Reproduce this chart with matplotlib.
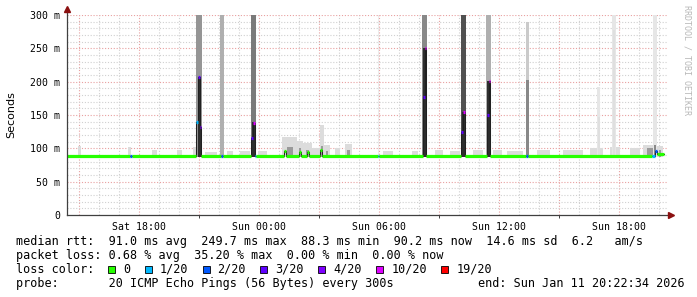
#!/usr/bin/env python3
# smokeping style latency graph (median rtt + smoke + loss colors)

import matplotlib
matplotlib.use('Agg')
import matplotlib.pyplot as plt
from matplotlib.patches import Rectangle

W, H = 697, 297

# time axis: hours since Sat 00:00, graph ends Sun 20:22:34
t_start = 14.376
t_end = 44.376
t_last = 44.22  # last sample drawn

# median rtt steps: start hour, value [ms], loss bucket index
med_t = [14.38, 17.55, 17.65, 20.85, 20.93, 21.01, 21.10, 22.09, 22.17,
         23.60, 23.68, 23.76, 23.84, 25.22, 25.32, 25.97, 26.07, 26.38,
         26.48, 27.03, 27.13, 29.91, 29.99, 32.18, 32.26, 32.35, 34.10,
         34.18, 34.27, 35.38, 35.46, 35.55, 37.35, 37.43, 43.63, 43.78,
         43.90]
med_v = [89, 89, 89, 140, 207, 132, 89, 89, 89,
         115, 138, 89, 89, 96, 89, 95, 89, 94,
         89, 97, 89, 89, 89, 177, 250, 89, 124,
         155, 89, 150, 201, 89, 89, 89, 89, 96,
         92]
med_loss = [0, 2, 0, 1, 3, 4, 0, 2, 0,
            3, 5, 1, 0, 0, 0, 0, 0, 0,
            0, 0, 0, 1, 0, 3, 5, 0, 3,
            5, 0, 3, 5, 0, 2, 0, 1, 2,
            0]

# loss legend
loss_labels = ['0', '1/20', '2/20', '3/20', '4/20', '10/20', '19/20']
loss_colors = ['#26ff00', '#00b8ff', '#0059ff', '#5e00ff', '#7e00ff', '#dd00ff', '#ff0000']

# tall smoke columns: start/end hour, top [ms], inner top [ms], densities
spike_t0 = [20.85, 22.05, 23.58, 29.93, 32.15, 34.08, 35.35, 37.31, 40.90, 41.63, 43.68]
spike_t1 = [21.15, 22.23, 23.83, 30.00, 32.40, 34.33, 35.60, 37.50, 41.05, 41.85, 43.88]
spike_top = [310, 310, 310, 310, 310, 310, 310, 290, 192, 300, 310]
spike_core = [207, 0, 140, 0, 250, 155, 201, 202, 147, 277, 105]
spike_density = [0.50, 0.42, 0.60, 0.15, 0.55, 0.75, 0.42, 0.32, 0.18, 0.18, 0.18]
spike_core_density = [0.85, 0, 0.85, 0, 0.85, 0.85, 0.85, 0.55, 0.22, 0.22, 0.55]

# light smoke around the baseline: start/end hour, top [ms], inner top [ms]
fuzz_t0 = [14.93, 17.43, 18.63, 19.88, 20.68, 21.28, 22.38, 23.03, 23.93,
           25.13, 25.88, 26.18, 26.63, 27.03, 27.23, 27.78, 28.28, 30.18,
           31.63, 32.78, 33.53, 34.68, 35.68, 36.38, 37.88, 39.18, 40.53,
           41.53, 42.53, 43.18, 43.88]
fuzz_t1 = [15.08, 17.58, 18.88, 20.13, 20.88, 21.88, 22.68, 23.53, 24.38,
           25.88, 26.18, 26.63, 27.03, 27.23, 27.53, 28.03, 28.63, 30.68,
           31.93, 33.18, 34.03, 35.18, 36.13, 37.18, 38.53, 40.18, 41.18,
           42.03, 43.03, 43.88, 44.18]
fuzz_top = [103, 102, 98, 97, 102, 95, 96, 96, 96,
            117, 111, 108, 100, 135, 105, 100, 107, 96,
            96, 97, 96, 97, 97, 96, 97, 98, 100,
            102, 100, 105, 103]
fuzz_core = [0, 0, 0, 0, 0, 0, 0, 0, 0,
             102, 100, 97, 0, 104, 96, 0, 98, 0,
             0, 0, 0, 0, 0, 0, 0, 0, 0,
             0, 0, 100, 97]

# axis ticks
x_labels = ['Sat 18:00', 'Sun 00:00', 'Sun 06:00', 'Sun 12:00', 'Sun 18:00']
x_label_pos = [18, 24, 30, 36, 42]
y_ticks = [0, 50, 100, 150, 200, 250, 300]
y_labels = ['0', '50 m', '100 m', '150 m', '200 m', '250 m', '300 m']

# legend text
rtt_line = 'median rtt:  91.0 ms avg  249.7 ms max  88.3 ms min  90.2 ms now  14.6 ms sd  6.2   am/s'
loss_line = 'packet loss: 0.68 % avg  35.20 % max  0.00 % min  0.00 % now'
probe_text = 'probe:       20 ICMP Echo Pings (56 Bytes) every 300s'
end_text = 'end: Sun Jan 11 20:22:34 2026'

BASE = 87.5
MONO = 'DejaVu Sans Mono'
FS = 8.5
CW = 7.1  # char width in px at FS


# pixel position -> figure fraction
def px(x, y):
    return x/W, 1 - y/H


# dotted background grid
def plot_grid(ax):
    h = 15
    while h < t_end:
        major = (h - 15) % 3 == 0
        ax.axvline(h, color='#e8a0a0' if major else '#d0d0d0', lw=0.8,
                   ls=(0, (1, 1.6)), zorder=0)
        h += 1
    for v in range(10, 301, 10):
        major = v % 50 == 0
        ax.axhline(v, color='#e8a0a0' if major else '#d0d0d0', lw=0.8,
                   ls=(0, (1, 1.6)), zorder=0)


# smoke columns
def plot_smoke(ax):
    grey = plt.cm.Greys
    for t0, t1, top, core in zip(fuzz_t0, fuzz_t1, fuzz_top, fuzz_core):
        ax.bar(t0, top - BASE, bottom=BASE, width=t1 - t0, align='edge',
               color='#dcdcdc', lw=0, zorder=1)
        if core > 0:
            ax.bar(t0 + (t1 - t0)*0.3, core - BASE, bottom=BASE, width=(t1 - t0)*0.4,
                   align='edge', color='#9a9a9a', lw=0, zorder=1)
    for i in range(len(spike_t0)):
        w = spike_t1[i] - spike_t0[i]
        ax.bar(spike_t0[i], spike_top[i] - BASE, bottom=BASE, width=w, align='edge',
               color=grey(spike_density[i]), lw=0, zorder=1)
        if spike_core[i] > 0:
            ax.bar(spike_t0[i] + w*0.2, spike_core[i] - BASE, bottom=BASE, width=w*0.55,
                   align='edge', color=grey(spike_core_density[i]), lw=0, zorder=1)


# median line coloured by loss
def plot_median(ax):
    t = med_t + [t_last]
    v = med_v + [med_v[-1]]
    ax.step(t, v, where='post', color='#202020', lw=0.75, zorder=2)
    cols = [loss_colors[l] for l in med_loss]
    ax.hlines(med_v, med_t, t[1:], colors=cols, lw=2.3, zorder=3, capstyle='butt')


# axes, arrows and tick labels
def plot_axes(ax):
    for s in ax.spines.values():
        s.set_visible(False)
    ax.plot([t_start, t_start], [0, 309], color='#404040', lw=0.9, clip_on=False, zorder=4)
    ax.plot([t_start, 44.6], [0, 0], color='#404040', lw=0.9, clip_on=False, zorder=4)
    ax.plot([t_start], [309.5], marker='^', ms=4.5, color='#8b1010', clip_on=False, zorder=5)
    ax.plot([44.6], [0], marker='>', ms=4.5, color='#8b1010', clip_on=False, zorder=5)
    ax.set_xticks(x_label_pos)
    ax.set_xticklabels(x_labels, fontsize=7.1, family=MONO)
    ax.set_xticks([21, 27, 33, 39], minor=True)
    ax.tick_params(axis='x', which='major', length=0, pad=5)
    ax.tick_params(axis='x', which='minor', length=2.5, width=0.7, color='#404040')
    ax.set_yticks(y_ticks)
    ax.set_yticklabels(y_labels, fontsize=7.1, family=MONO)
    ax.tick_params(axis='y', length=0, pad=5)
    ax.set_ylabel('Seconds', fontsize=8, family='DejaVu Sans', labelpad=10)


# text legend under the graph
def plot_legend(fig):
    fig.text(*px(16, 245), rtt_line, fontsize=FS, family=MONO, va='baseline')
    fig.text(*px(16, 259), loss_line, fontsize=FS, family=MONO, va='baseline')
    fig.text(*px(16, 273), 'loss color:', fontsize=FS, family=MONO, va='baseline')
    x = 108
    for lab, col in zip(loss_labels, loss_colors):
        x0, y0 = px(x, 273)
        fig.add_artist(Rectangle((x0, y0), 7/W, 7/H, transform=fig.transFigure,
                                 facecolor=col, edgecolor='black', lw=0.6))
        fig.text(*px(x + 15, 273), lab, fontsize=FS, family=MONO, va='baseline')
        x += 15 + len(lab)*CW + 14.5
    fig.text(*px(16, 287), probe_text, fontsize=FS, family=MONO, va='baseline')
    fig.text(*px(16 + 65*CW, 287), end_text, fontsize=FS, family=MONO, va='baseline')
    fig.text(*px(687, 5), 'RRDTOOL / TOBI OETIKER', fontsize=6, family=MONO,
             color='#b8b8b8', rotation=270, ha='center', va='top')


fig = plt.figure(figsize=(W/100, H/100), dpi=100)
fig.patch.set_facecolor('white')
ax = fig.add_axes([67/W, 1 - 215/H, 600/W, 200/H])
ax.set_xlim(t_start, t_end)
ax.set_ylim(0, 300)
plot_grid(ax)
plot_smoke(ax)
plot_median(ax)
plot_axes(ax)
plot_legend(fig)
fig.savefig('out.png', dpi=100)
